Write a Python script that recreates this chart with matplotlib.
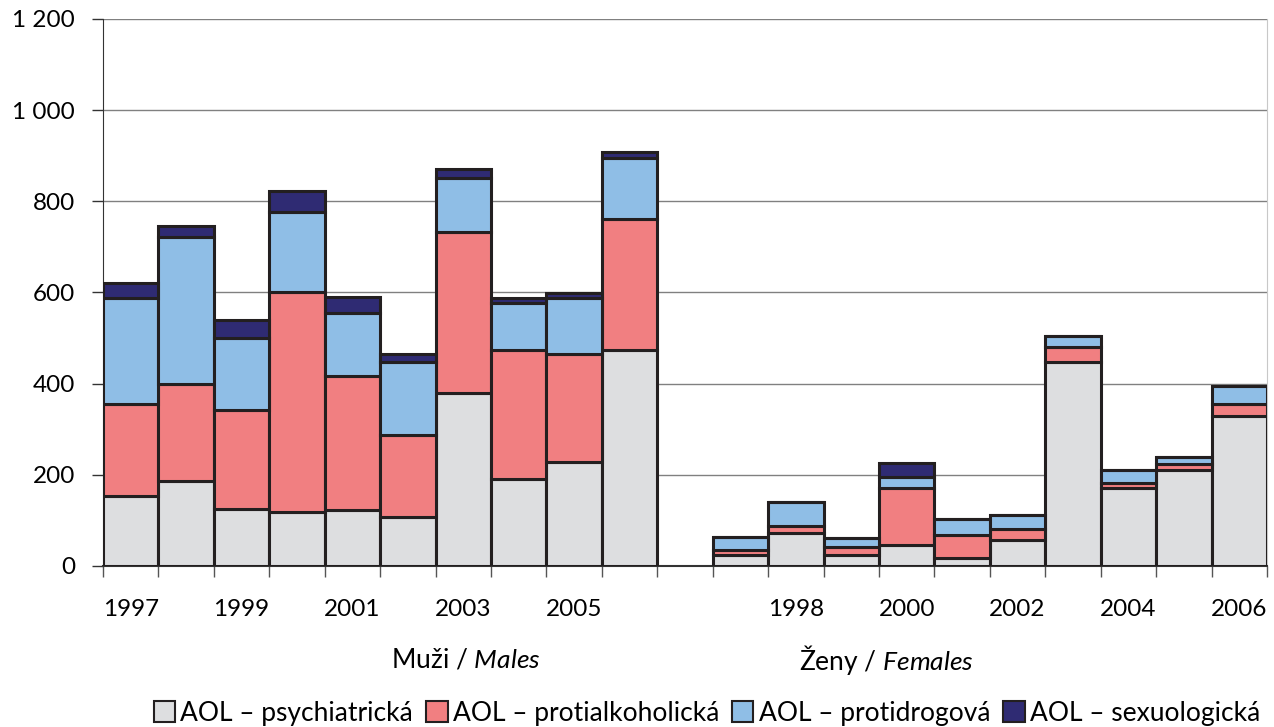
import matplotlib
matplotlib.use('Agg')
import matplotlib.pyplot as plt
from matplotlib.patches import Patch
from matplotlib.ticker import FixedLocator, FuncFormatter, NullFormatter
import numpy as np

plt.rcParams['font.family'] = ['Lato', 'DejaVu Sans']
plt.rcParams['mathtext.fontset'] = 'custom'
plt.rcParams['mathtext.rm'] = 'Lato'
plt.rcParams['mathtext.it'] = 'Lato:italic'

# data
years = [1997, 1998, 1999, 2000, 2001, 2002, 2003, 2004, 2005, 2006]
series_names = ['AOL – psychiatrická', 'AOL – protialkoholická', 'AOL – protidrogová', 'AOL – sexuologická']

muzi_psych = [153, 186, 125, 118, 123, 107, 380, 191, 228, 474]
muzi_alk = [202, 213, 217, 483, 294, 180, 353, 283, 237, 287]
muzi_drog = [233, 323, 158, 176, 138, 161, 118, 103, 123, 134]
muzi_sex = [33, 24, 40, 46, 35, 17, 20, 11, 11, 13]

zeny_psych = [23, 72, 23, 46, 18, 58, 447, 170, 211, 330]
zeny_alk = [11, 16, 19, 124, 50, 23, 34, 13, 13, 25]
zeny_drog = [30, 53, 20, 25, 35, 30, 24, 28, 14, 40]
zeny_sex = [0, 0, 0, 30, 0, 0, 0, 0, 0, 0]

colors = ['#DDDEE0', '#F17F81', '#8FBEE6', '#2F2B73']
edge = '#231F20'

fig = plt.figure(figsize=(12.74, 7.27), dpi=100)
ax = fig.add_axes([0.0808, 0.2215, 0.9137, 0.7524])

x_m = np.arange(10)
x_z = np.arange(10) + 11

for xs, groups in [(x_m, [muzi_psych, muzi_alk, muzi_drog, muzi_sex]),
                   (x_z, [zeny_psych, zeny_alk, zeny_drog, zeny_sex])]:
    bottom = np.zeros(10)
    for vals, c in zip(groups, colors):
        v = np.array(vals, dtype=float)
        ax.bar(xs, v, width=1.0, bottom=bottom, color=c, edgecolor=edge,
               linewidth=2.2, zorder=3)
        bottom += v

ax.set_xlim(-0.5, 20.5)
ax.set_ylim(0, 1200)
ax.set_yticks(range(0, 1201, 200))
ax.yaxis.set_major_formatter(FuncFormatter(lambda v, p: f'{int(v):,}'.replace(',', ' ')))
ax.yaxis.grid(True, color='#808080', linewidth=1.0, zorder=0)
ax.tick_params(axis='y', length=8, width=1, color='#333333', pad=12, labelsize=17.5)

# ticks on the bar boundaries
bounds = list(np.arange(-0.5, 10, 1.0)) + list(np.arange(10.5, 21, 1.0))
ax.xaxis.set_major_locator(FixedLocator(bounds))
ax.xaxis.set_major_formatter(NullFormatter())
ax.tick_params(axis='x', which='major', length=8, width=1, color='#555555')

lab_pos = [0, 2, 4, 6, 8, 12, 14, 16, 18, 20]
lab_txt = [str(years[i]) for i in [0, 2, 4, 6, 8]] + [str(years[i]) for i in [1, 3, 5, 7, 9]]
ax.xaxis.set_minor_locator(FixedLocator(lab_pos))
ax.set_xticklabels(lab_txt, minor=True)
ax.tick_params(axis='x', which='minor', length=0, pad=24, labelsize=17.5)

ax.spines['top'].set_visible(False)
ax.spines['right'].set_color('#C8C8C8')
ax.spines['left'].set_color('#333333')
ax.spines['bottom'].set_color('#333333')
ax.spines['bottom'].set_linewidth(1.5)

ax.text(6.05, -0.172, 'Muži / $\\mathit{Males}$', transform=ax.get_xaxis_transform(),
        ha='center', va='center', fontsize=19)
ax.text(13.64, -0.172, 'Ženy / $\\mathit{Females}$', transform=ax.get_xaxis_transform(),
        ha='center', va='center', fontsize=19)

handles = [Patch(facecolor=c, edgecolor=edge, linewidth=1.5) for c in colors]
fig.legend(handles, series_names, loc='lower center', bbox_to_anchor=(0.555, -0.02),
           ncol=4, frameon=False, fontsize=19, handlelength=0.8, handleheight=0.8,
           handletextpad=0.2, columnspacing=0.5, borderaxespad=0.2)

fig.savefig('out.png', dpi=100)
